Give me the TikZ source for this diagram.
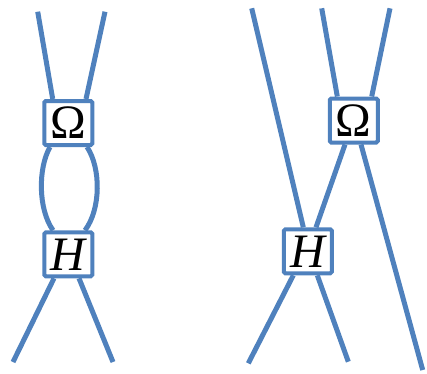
\documentclass[tikz,border=0pt]{standalone}
\usepackage{fontspec}
\setmainfont{Liberation Serif}
\usetikzlibrary{calc,backgrounds}
\definecolor{wire}{HTML}{4F81BD}
\tikzset{
  strand/.style={draw=wire, line width=5pt},
  gate/.style={draw=wire, line width=4pt, fill=white, rounded corners=1.5pt,
    minimum width=48pt, minimum height=44pt, inner sep=0pt, font=\fontsize{48}{48}\selectfont},
  gateH/.style={gate, font=\fontsize{48}{48}\selectfont\itshape},
}
\begin{document}
\begin{tikzpicture}[x=1pt,y=-1pt]
\useasboundingbox (0,0) rectangle (427,373);

% left: Omega above H, joined by a loop
\node[gate]  (om1) at (68.3,123)   {Ω};
\node[gateH] (h1)  at (68.3,254.3) {H};
% right: Omega and H on crossing strands
\node[gate]  (om2) at (353.8,120.5) {Ω};
\node[gateH] (h2)  at (307.8,251.3) {H};

% free ends
\coordinate (a1) at (37.7,11.7);
\coordinate (a2) at (105,11.7);
\coordinate (a3) at (13,362);
\coordinate (a4) at (113,362);
\coordinate (b1) at (251.7,8.3);
\coordinate (b2) at (321.7,8.3);
\coordinate (b3) at (390,8.3);
\coordinate (b4) at (422.7,370);
\coordinate (b5) at (248.3,363.3);
\coordinate (b6) at (348.3,361.7);

\begin{scope}[on background layer]
  \draw[strand] (a1) -- ($(om1.north)+(-15.6,0)$);
  \draw[strand] (a2) -- ($(om1.north)+(17.7,0)$);
  \draw[strand] ($(om1.south)+(-18.3,0)$) .. controls (38,168) and (38,209) .. ($(h1.north)+(-15.3,0)$);
  \draw[strand] ($(om1.south)+(18.7,0)$) .. controls (101,168) and (101,209) .. ($(h1.north)+(16.7,0)$);
  \draw[strand] ($(h1.south)+(-14.3,0)$) -- (a3);
  \draw[strand] ($(h1.south)+(10.7,0)$) -- (a4);

  \draw[strand] (b1) -- ($(h2.north)+(-4.5,0)$);
  \draw[strand] (b2) -- ($(om2.north)+(-16.5,0)$);
  \draw[strand] (b3) -- ($(om2.north)+(17.9,0)$);
  \draw[strand] ($(om2.south)+(-8.8,0)$) -- ($(h2.north)+(8.2,0)$);
  \draw[strand] ($(om2.south)+(7.2,0)$) -- (b4);
  \draw[strand] ($(h2.south)+(-14.5,0)$) -- (b5);
  \draw[strand] ($(h2.south)+(9.5,0)$) -- (b6);
\end{scope}
\end{tikzpicture}
\end{document}
